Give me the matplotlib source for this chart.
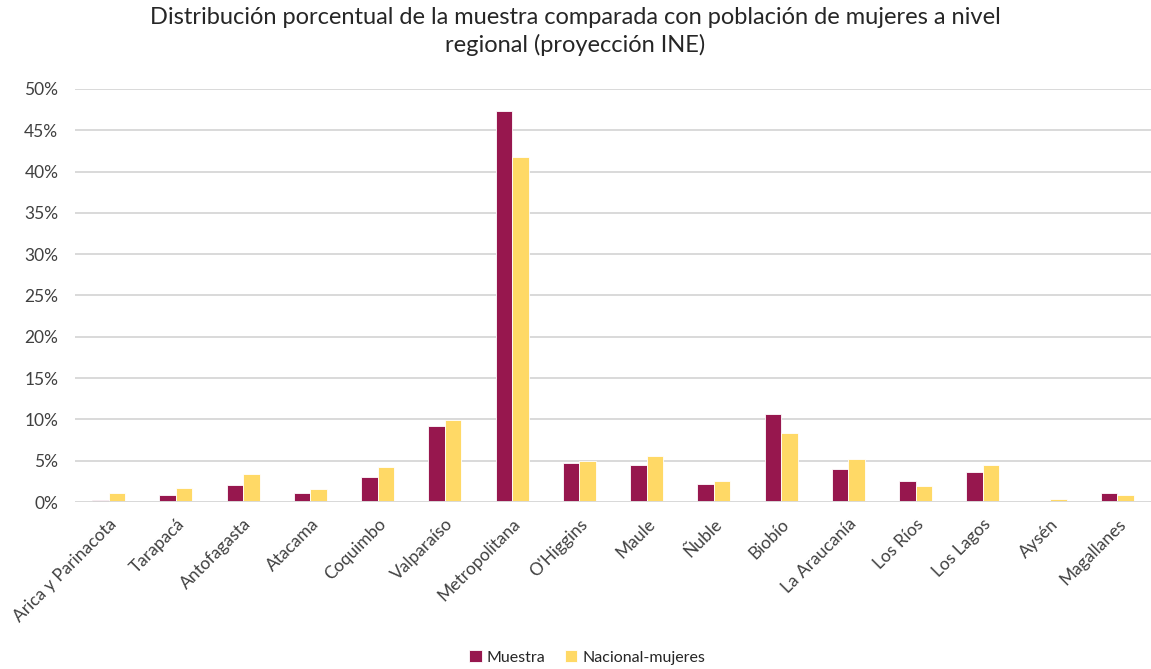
import numpy as np
import matplotlib
matplotlib.use("Agg")
import matplotlib.pyplot as plt
from matplotlib.ticker import PercentFormatter


### DATA ###
regiones = ["Arica y Parinacota", "Tarapacá", "Antofagasta", "Atacama", "Coquimbo",
            "Valparaíso", "Metropolitana", "O'Higgins", "Maule", "Ñuble", "Biobío",
            "La Araucanía", "Los Ríos", "Los Lagos", "Aysén", "Magallanes"]
muestra = [0.25, 0.9, 2.0, 1.1, 3.0, 9.2, 47.3, 4.7, 4.45, 2.2, 10.7, 4.0, 2.6, 3.6, 0.1, 1.05]
nacional_mujeres = [1.05, 1.75, 3.4, 1.55, 4.25, 9.95, 41.8, 4.95, 5.6, 2.6, 8.4, 5.2, 1.95, 4.45, 0.35, 0.8]

titulo = "Distribución porcentual de la muestra comparada con población de mujeres a nivel\nregional (proyección INE)"


plt.rcParams['font.family'] = ['Lato', 'DejaVu Sans']

fig = plt.figure(figsize=(11.51, 6.69), dpi=100)
ax = fig.add_axes([0.0652, 0.2496, 0.9348, 0.6174])

x = np.arange(len(regiones))
w = 0.245

ax.bar(x - w / 2, muestra, w, color='#97174E', edgecolor='white', linewidth=0.6,
       label='Muestra', zorder=2)
ax.bar(x + w / 2, nacional_mujeres, w, color='#FFD966', edgecolor='white', linewidth=0.6,
       label='Nacional-mujeres', zorder=2)


### AXES ###
ax.set_xlim(-0.5, len(regiones) - 0.5)
ax.set_ylim(0, 50)
ax.set_yticks(np.arange(0, 51, 5))
ax.yaxis.set_major_formatter(PercentFormatter(decimals=0))
ax.grid(axis='y', color='#D9D9D9', linewidth=1.4, zorder=0)
ax.axhline(0, color='#D9D9D9', linewidth=1.4, zorder=3)

for s in ax.spines.values():
    s.set_visible(False)

ax.tick_params(axis='both', length=0, colors='#404040')
ax.tick_params(axis='y', pad=12, labelsize=12.5)
ax.set_xticks(x)
ax.set_xticklabels(regiones, rotation=45, ha='right', rotation_mode='anchor')
ax.tick_params(axis='x', pad=10, labelsize=12.5)


### TITLE AND LEGEND ###
fig.text(0.5, 0.99, titulo, ha='center', va='top', fontsize=17,
         color='#262626', linespacing=1.35)

fig.legend(loc='lower center', bbox_to_anchor=(0.51, -0.015), ncol=2, frameon=False,
           fontsize=11.5, handlelength=0.8, handleheight=0.8, columnspacing=1.2,
           handletextpad=0.3, labelcolor='#262626')

fig.savefig("out.png", dpi=100)
